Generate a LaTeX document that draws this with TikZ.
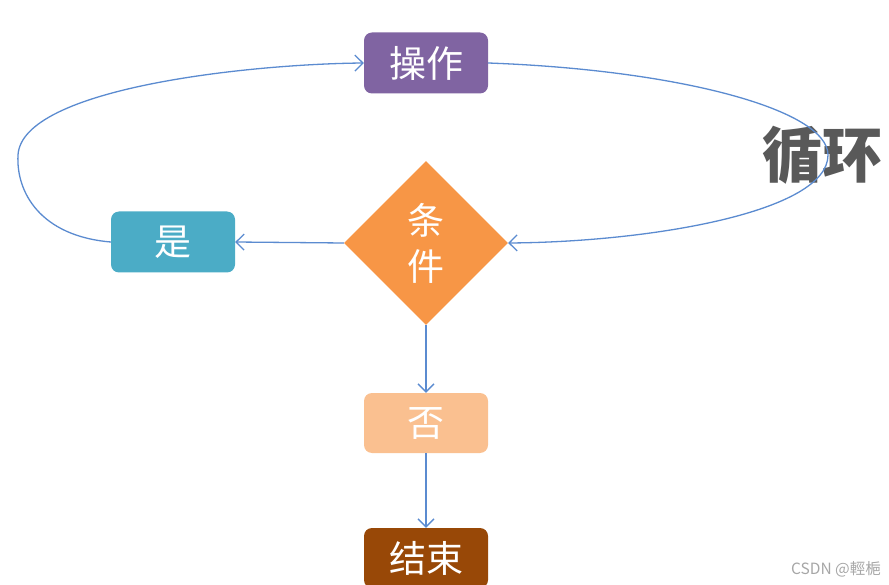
\documentclass[tikz,border=0pt]{standalone}
\usepackage{fontspec}
\newfontfamily\cjk{Noto Sans CJK SC}
\usetikzlibrary{arrows.meta,shapes.geometric}

\definecolor{opcol}{HTML}{8064A2}
\definecolor{condcol}{HTML}{F79646}
\definecolor{yescol}{HTML}{4BACC6}
\definecolor{nocol}{HTML}{FAC090}
\definecolor{endcol}{HTML}{984807}
\definecolor{linkcol}{HTML}{5B8BD0}
\definecolor{loopcol}{HTML}{595959}

\tikzset{
  box/.style={rectangle,rounded corners=8pt,draw=none,text=white,
    minimum width=124pt,minimum height=61pt,inner sep=0pt,
    font=\cjk\fontsize{37}{40}\selectfont},
  link/.style={draw=linkcol,line width=1.3pt,
    -{Straight Barb[length=8pt,width=16pt,line width=1.3pt]}}
}

\begin{document}
\begin{tikzpicture}[x=1pt,y=-1pt]

  \useasboundingbox (0,0) rectangle (889,585);

  % boxes
  \node[box,fill=opcol]   (op)   at (426,63)  {操作};
  \node[box,fill=yescol]  (yes)  at (173,242) {是};
  \node[box,fill=nocol,minimum height=60pt]   (no)   at (426,423) {否};
  \node[box,fill=endcol,minimum height=60pt]  (end)  at (426,558) {结束};

  % decision
  \node[diamond,fill=condcol,text=white,minimum width=164pt,
        minimum height=164pt,inner sep=0pt,align=center,
        font=\cjk\fontsize{37}{46}\selectfont] (cond) at (426,243) {条\\件};

  % loop label
  \node[text=loopcol,font=\cjk\bfseries\fontsize{60}{60}\selectfont]
    (loop) at (822,155) {循环};

  % straight links
  \draw[link] (cond.west) -- (yes.east);
  \draw[link] (cond.south) -- (no.north);
  \draw[link] (no.south) -- (end.north);

  % loop back on the right
  \draw[link] (op.east) .. controls (680,70) and (828,110) .. (828,155)
    .. controls (828,212) and (650,242) .. (cond.east);

  % loop back on the left
  \draw[link] (yes.west) .. controls (40,236) and (16,192) .. (18,155)
    .. controls (22,88) and (250,64) .. (op.west);

  % watermark
  \node[text=black!35,font=\cjk\fontsize{15.5}{16}\selectfont]
    (mark) at (836,569) {CSDN @輕梔};

\end{tikzpicture}
\end{document}
